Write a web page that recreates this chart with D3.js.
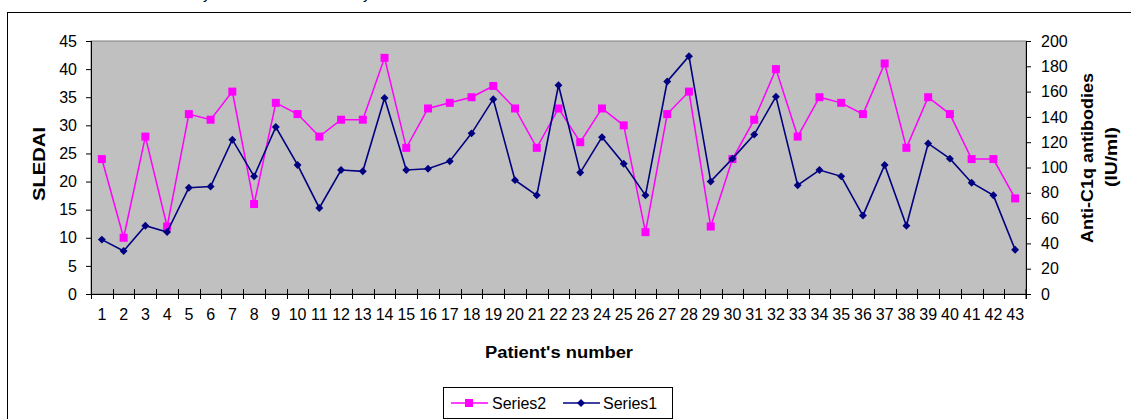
<!DOCTYPE html>
<html>
<head>
<meta charset="utf-8">
<script src="https://cdn.jsdelivr.net/npm/d3@7"></script>
<style>
  body { margin: 0; background: #fff; }
  svg { display: block; font-family: "Liberation Sans", Arial, sans-serif; }
</style>
</head>
<body>
<div id="chart"></div>
<script>
const patients = d3.range(1, 44)
// Series2: SLEDAI (left axis)
const series2 = [24, 10, 28, 12, 32, 31, 36, 16, 34, 32, 28, 31, 31, 42, 26, 33, 34, 35, 37, 33,
                 26, 33, 27, 33, 30, 11, 32, 36, 12, 24, 31, 40, 28, 35, 34, 32, 41, 26, 35, 32,
                 24, 24, 17]
// Series1: anti-C1q antibodies IU/ml (right axis)
const series1 = [43, 34, 54, 49, 84, 85, 122, 93, 132, 102, 68, 98, 97, 155, 98, 99, 105, 127, 154, 90,
                 78, 165, 96, 124, 103, 78, 168, 188, 89, 107, 126, 156, 86, 98, 93, 62, 102, 54, 119, 107,
                 88, 78, 35]
const leftTicks = [0, 5, 10, 15, 20, 25, 30, 35, 40, 45]
const rightTicks = [0, 20, 40, 60, 80, 100, 120, 140, 160, 180, 200]

const width = 1131, height = 419
const plot = { left: 91, right: 1026, top: 41, bottom: 294 }

const svg = d3.select("#chart").append("svg").attr("width", width).attr("height", height)

// outer chart border (bottom and right run off the picture)
svg.append("rect")
  .attr("x", 7.5).attr("y", 12.5)
  .attr("width", 1130).attr("height", 420)
  .attr("fill", "none").attr("stroke", "#000").attr("stroke-width", 1)

// caption above the chart, only descenders show in the crop
svg.append("text").attr("x", 203).attr("y", -1).attr("font-size", 15).text("y")
svg.append("text").attr("x", 363).attr("y", -1).attr("font-size", 15).text("y")

const x = d3.scaleBand().domain(patients).range([plot.left, plot.right]).padding(0)
const yL = d3.scaleLinear().domain([0, 45]).range([plot.bottom, plot.top])
const yR = d3.scaleLinear().domain([0, 200]).range([plot.bottom, plot.top])
const cx = d => x(d) + x.bandwidth() / 2

// plot area
svg.append("rect")
  .attr("x", plot.left).attr("y", plot.top)
  .attr("width", plot.right - plot.left).attr("height", plot.bottom - plot.top)
  .attr("fill", "#c0c0c0").attr("stroke", "#808080").attr("stroke-width", 1)

// left axis
const gl = svg.append("g")
  .attr("transform", "translate(" + plot.left + ",0)")
  .call(d3.axisLeft(yL).tickValues(leftTicks).tickSize(5).tickPadding(9))
gl.selectAll("text").attr("font-size", 16).attr("fill", "#000").attr("font-family", null)
gl.selectAll("line,path").attr("stroke", "#000")

// right axis
const gr = svg.append("g")
  .attr("transform", "translate(" + plot.right + ",0)")
  .call(d3.axisRight(yR).tickValues(rightTicks).tickSize(5).tickPadding(10))
gr.selectAll("text").attr("font-size", 16).attr("fill", "#000").attr("font-family", null)
gr.selectAll("line,path").attr("stroke", "#000")

// bottom axis: labels at band centres, cross ticks at band edges
const gb = svg.append("g")
  .attr("transform", "translate(0," + plot.bottom + ")")
  .call(d3.axisBottom(x).tickSize(0).tickPadding(15))
gb.select("path").remove()
gb.selectAll("text").attr("font-size", 16).attr("fill", "#000").attr("font-family", null)
svg.append("line")
  .attr("x1", plot.left - 5).attr("x2", plot.right + 5)
  .attr("y1", plot.bottom + 0.5).attr("y2", plot.bottom + 0.5)
  .attr("stroke", "#000")
svg.append("g").selectAll("line")
  .data(patients.concat([null]))
  .enter().append("line")
  .attr("x1", d => d === null ? plot.right : Math.round(x(d)) + 0.5)
  .attr("x2", d => d === null ? plot.right : Math.round(x(d)) + 0.5)
  .attr("y1", plot.bottom - 5).attr("y2", plot.bottom + 5)
  .attr("stroke", "#000")
svg.append("line")
  .attr("x1", plot.left + 0.5).attr("x2", plot.left + 0.5)
  .attr("y1", plot.top).attr("y2", plot.bottom + 5)
  .attr("stroke", "#000")
svg.append("line")
  .attr("x1", plot.right + 0.5).attr("x2", plot.right + 0.5)
  .attr("y1", plot.top).attr("y2", plot.bottom + 5)
  .attr("stroke", "#000")

// axis titles
svg.append("text")
  .attr("transform", "translate(45,164) rotate(-90)")
  .attr("text-anchor", "middle").attr("font-size", 16).attr("font-weight", "bold")
  .attr("textLength", 74).attr("lengthAdjust", "spacingAndGlyphs")
  .text("SLEDAI")
svg.append("text")
  .attr("transform", "translate(1093,158) rotate(-90)")
  .attr("text-anchor", "middle").attr("font-size", 16).attr("font-weight", "bold")
  .attr("textLength", 170).attr("lengthAdjust", "spacingAndGlyphs")
  .text("Anti-C1q antibodies")
svg.append("text")
  .attr("transform", "translate(1117,157) rotate(-90)")
  .attr("text-anchor", "middle").attr("font-size", 16).attr("font-weight", "bold")
  .attr("textLength", 60).attr("lengthAdjust", "spacingAndGlyphs")
  .text("(IU/ml)")
svg.append("text")
  .attr("x", 559).attr("y", 358)
  .attr("text-anchor", "middle").attr("font-size", 16).attr("font-weight", "bold")
  .attr("textLength", 148).attr("lengthAdjust", "spacingAndGlyphs")
  .text("Patient's number")

// series
const line2 = d3.line().x((d, i) => cx(patients[i])).y(d => yL(d))
const line1 = d3.line().x((d, i) => cx(patients[i])).y(d => yR(d))

svg.append("path").datum(series2)
  .attr("fill", "none").attr("stroke", "#ff00ff").attr("stroke-width", 1.5)
  .attr("d", line2)
svg.append("g").selectAll("rect")
  .data(series2).enter().append("rect")
  .attr("x", (d, i) => cx(patients[i]) - 4).attr("y", d => yL(d) - 4)
  .attr("width", 8).attr("height", 8)
  .attr("fill", "#ff00ff")

svg.append("path").datum(series1)
  .attr("fill", "none").attr("stroke", "#000080").attr("stroke-width", 1.6)
  .attr("d", line1)
const diamond = d3.symbol().type(d3.symbolDiamond2).size(40)
svg.append("g").selectAll("path")
  .data(series1).enter().append("path")
  .attr("transform", (d, i) => "translate(" + cx(patients[i]) + "," + yR(d) + ")")
  .attr("d", diamond)
  .attr("fill", "#000080")

// legend
const lg = svg.append("g")
lg.append("rect")
  .attr("x", 443.5).attr("y", 387.5).attr("width", 229).attr("height", 31)
  .attr("fill", "#fff").attr("stroke", "#000")
lg.append("line").attr("x1", 451).attr("x2", 488).attr("y1", 403).attr("y2", 403)
  .attr("stroke", "#ff00ff").attr("stroke-width", 1.5)
lg.append("rect").attr("x", 465).attr("y", 399).attr("width", 8).attr("height", 8).attr("fill", "#ff00ff")
lg.append("text").attr("x", 492).attr("y", 409).attr("font-size", 16).text("Series2")
lg.append("line").attr("x1", 563).attr("x2", 600).attr("y1", 403).attr("y2", 403)
  .attr("stroke", "#000080").attr("stroke-width", 1.5)
lg.append("path").attr("transform", "translate(581,403)").attr("d", diamond).attr("fill", "#000080")
lg.append("text").attr("x", 603).attr("y", 409).attr("font-size", 16).text("Series1")
</script>
</body>
</html>
